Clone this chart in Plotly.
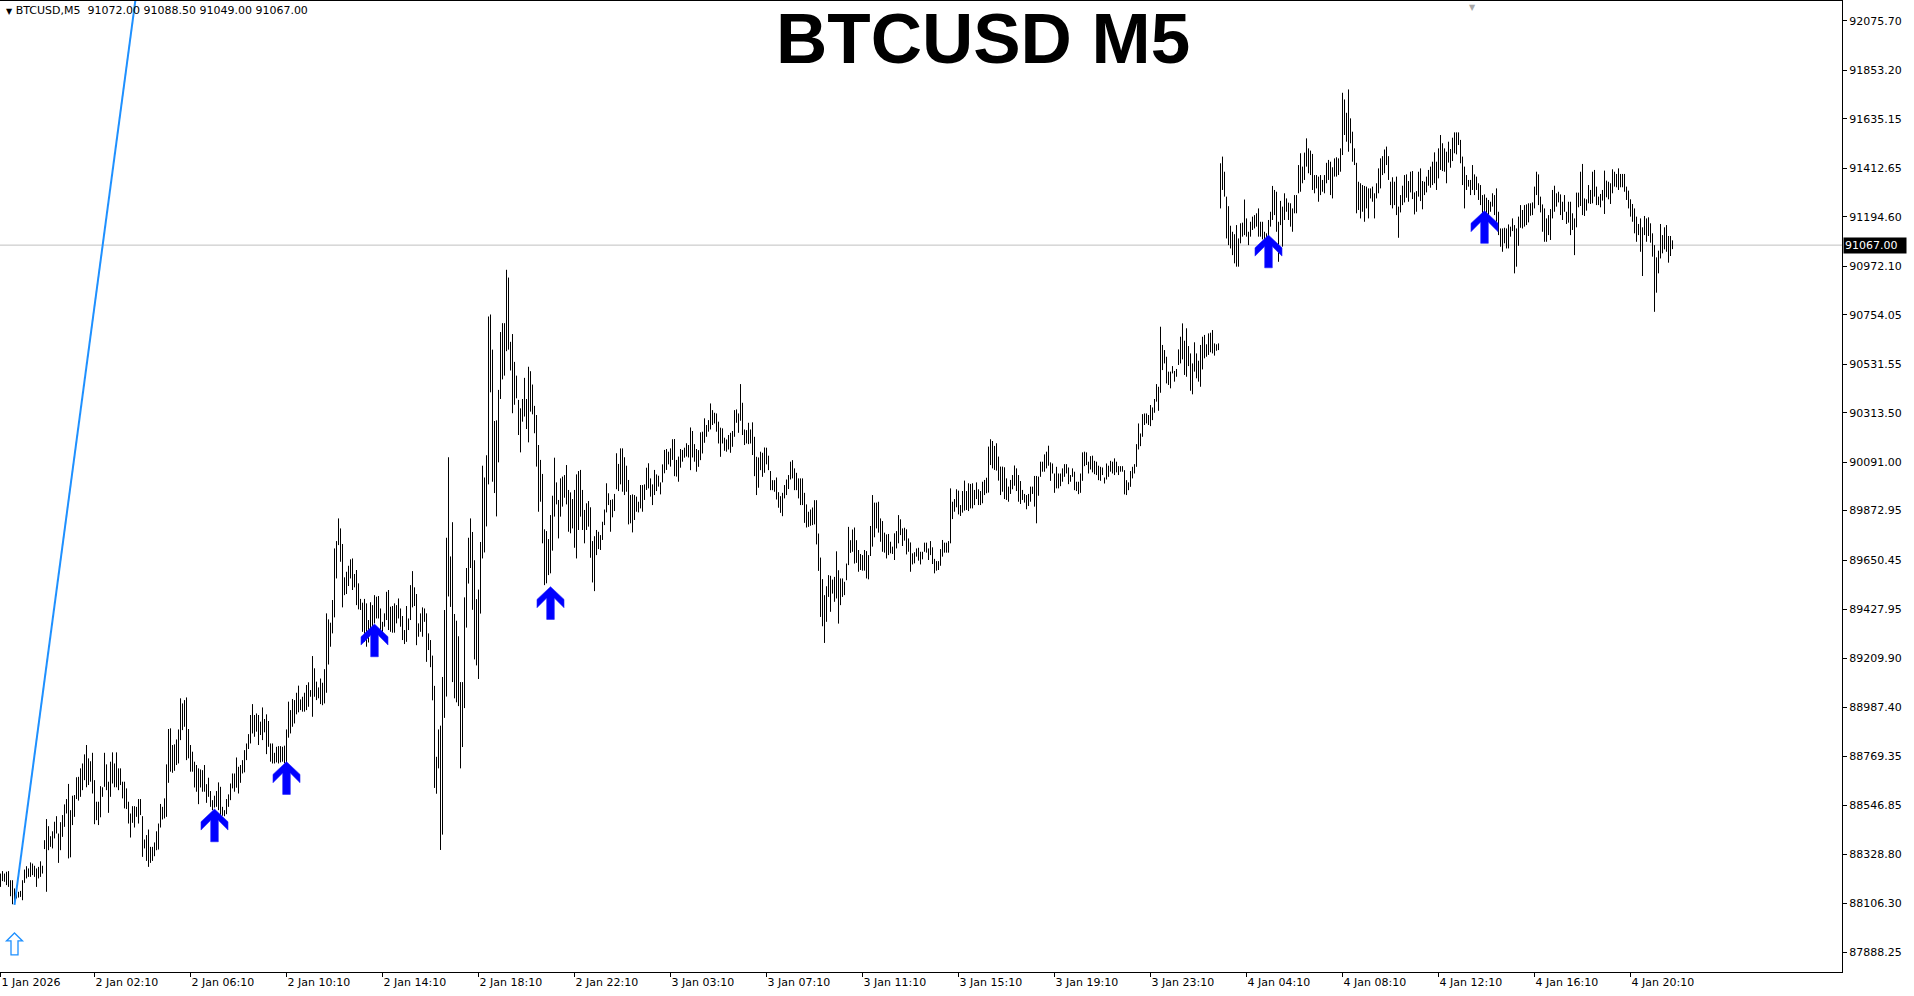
import plotly.graph_objects as go

# ---------------- data ----------------
highs = [
88241,88252,88241,88249,88252,88211,88211,88174,88181,88159,
88163,88211,88259,88274,88264,88291,88286,88276,88264,88271,
88296,88276,88391,88486,88454,88409,88431,88474,88499,88421,
88472,88504,88552,88576,88644,88526,88591,88594,88674,88676,
88714,88736,88777,88819,88759,88746,88784,88661,88564,88564,
88634,88629,88784,88732,88654,88744,88786,88736,88786,88714,
88714,88654,88654,88624,88564,88511,88544,88544,88541,88576,
88576,88499,88394,88414,88439,88361,88361,88381,88431,88466,
88554,
88541,88579,88732,88891,88894,88819,88822,88844,88889,89029,
89006,89021,89033,88891,88819,88789,88744,88729,88714,88709,
88706,88729,88643,88672,88612,88571,88591,88612,88651,88631,
88541,88526,88576,88597,88646,88691,88691,88763,88721,88729,
88751,88796,88826,88868,88954,89003,88954,88961,88954,88924,
88988,88936,88957,88927,88826,88826,88784,88811,88814,88814,
88811,88816,88889,89014,88976,89026,89021,89054,89086,89024,
89036,89054,89089,89101,89066,89219,89164,89104,89078,
89118,89099,89160,89411,89384,89369,89471,89703,89736,89838,
89793,89723,89573,89598,89625,89654,89658,89588,89606,89546,
89476,89459,89476,89456,89381,89461,89448,89493,89486,89489,
89433,89373,89411,89508,89516,89441,89444,89456,89448,89478,
89433,89399,89336,89444,89388,89538,89601,89528,89498,89366,
89411,89438,89433,89411,89321,
89291,89221,89085,88766,88889,88906,89125,89426,89751,90113,
89667,89821,89408,89378,89308,89102,89102,89483,89615,89751,
89838,89777,89650,89475,89518,89732,90075,90022,90122,90746,
90755,90597,90276,90279,90416,90676,90716,90716,90956,90921,
90632,90667,90542,
90480,90371,90333,90375,90470,90375,90520,90500,90440,90344,
90303,90168,90101,90038,89789,89781,89745,89853,89940,90111,
90000,89921,90018,90026,90033,90078,89966,89955,89925,89966,
90036,90051,90056,89966,89876,89906,89916,89888,89736,89758,
89786,89778,89763,89823,89878,89996,89951,89921,89924,89948,
90131,90083,90153,90153,90113,90075,90011,89943,89946,89943,
89936,89913,89988,89988,89991,90066,90086,90018,89991,90056,
90036,90030,90000,90081,90146,90150,90138,90153,90194,90195,
90101,90116,90150,90146,90156,90176,
90168,90247,90231,90172,90150,90145,90225,90228,90288,90258,
90280,90355,90325,90313,90310,90273,90246,90243,90201,90193,
90213,90223,90231,90325,90328,90310,90442,90358,90238,90235,
90268,90238,90270,90205,90115,90112,90138,90133,90157,90156,
90120,90051,90010,90010,90022,89956,89938,89953,89988,90013,
90033,90093,90100,90063,90043,90018,90018,90018,89953,89901,
89868,89878,89887,89920,89920,89770,89662,89565,89493,89533,
89583,89580,89563,89575,89690,89605,89568,89568,89553,89635,
89800,89740,89788,89797,89740,
89696,89678,89673,89696,89691,89673,89804,89943,89909,89909,
89913,89838,89826,89774,89766,89768,89733,89711,89771,89781,
89853,89834,89793,89796,89789,89748,89730,89681,89686,89703,
89706,89688,89688,89729,89729,89703,89736,89708,89656,89646,
89646,89700,89741,89729,89729,89736,89973,89913,89925,89969,
89963,89898,89961,90008,89961,89996,89993,89996,89966,90000,
89969,89961,90003,90011,90021,90161,90194,90186,90164,90176,
90116,90071,90071,90068,90018,89981,90011,90033,90076,90063,
90033,90006,89966,89948,89943,89948,89981,89981,90029,90029,
90026,
90093,90093,90126,90138,90165,90090,90085,90040,90070,90040,
90040,90063,90082,90082,90067,90033,90063,90048,90003,90003,
90040,90135,90138,90135,90093,90118,90120,90097,90093,90075,
90070,90067,90022,90085,90075,90097,90093,90108,90093,90073,
90073,90073,90055,90010,90000,90051,90070,90082,90172,90265,
90220,90307,90310,90310,90303,90348,90337,90375,90442,90430,
90700,90618,90595,90565,90498,90498,90523,90501,90510,90598,
90655,90715,90637,90693,90613,90580,90535,90630,90580,90547,
90618,90655,90663,90621,90670,90673,90685,90625,90621,90625,
91435,91465,91397,91285,91242,91154,91127,91116,91157,91097,
91165,91168,91272,91187,91127,91172,91195,91202,91210,91232,
91172,91172,91127,91120,91180,91217,91333,91315,91307,91172,
91266,91240,91300,91277,91258,91255,91232,91292,91292,91427,
91480,91420,91483,91547,91502,91492,91477,91382,91382,91375,
91382,91360,91382,91437,91450,91442,91417,91457,91462,91457,
91502,91752,91722,91662,91767,91637,91577,91502,91437,91352,
91345,91337,91333,91330,91322,91322,91330,91300,91345,91412,
91457,91467,91497,91510,91467,91352,91372,91352,
91375,91240,91292,91334,91382,91385,91355,91397,91400,91304,
91310,91397,91412,91355,91352,91375,91405,91420,91442,91484,
91442,91502,91562,91525,91502,91487,91532,91499,91550,91574,
91574,91574,91540,91465,91420,91382,91360,91360,91427,91385,
91375,91345,91337,91292,91295,91280,91270,91262,91300,91292,
91322,91217,91142,91142,91145,91142,91160,91150,91187,91157,
91142,91195,91247,91225,91247,91250,91255,91255,91259,91330,
91397,91385,91285,91250,91232,91187,91202,91229,91315,91334,
91300,91307,91295,91262,91292,
91217,91262,91262,91210,91187,91303,91303,91397,91432,91277,
91273,91337,91315,91397,91405,91330,91285,91297,91315,91402,
91357,91352,91345,91408,91397,91387,91412,91387,91387,91387,
91330,91312,91273,91252,91232,91195,91162,91187,91147,91198,
91187,91192,91165,91120,91067,91012,91042,91162,91112,91147,
91157,91108,91108,91088.5,
]

lows = [
88181,88207,88204,88189,88181,88139,88103,88114,88129,88133,
88136,88121,88199,88219,88226,88226,88234,88226,88181,88219,
88226,88241,88351,88159,88346,88361,88354,88399,88421,88289,
88346,88406,88451,88511,88309,88314,88459,88496,88576,88569,
88586,88616,88661,88629,88639,88654,88601,88463,88481,88459,
88494,88586,88631,88616,88514,88586,88646,88629,88629,88616,
88639,88579,88534,88531,88466,88403,88469,88448,88496,88466,
88504,88316,88354,88298,88271,88289,88298,88319,88346,88349,
88448,
88484,88489,88496,88649,88699,88694,88703,88729,88736,88841,
88886,88901,88751,88759,88699,88699,88628,88609,88553,88628,
88609,88609,88559,88586,88541,88526,88538,88541,88526,88504,
88501,88499,88508,88541,88571,88624,88609,88627,88601,88649,
88691,88696,88751,88801,88826,88871,88856,88879,88819,88864,
88841,88876,88778,88811,88744,88736,88736,88741,88736,88741,
88744,88736,88736,88852,88871,88901,88916,88957,88966,88976,
88969,88969,88976,88991,89036,88946,89036,89021,89029,
89003,88998,89006,89054,89181,89261,89321,89393,89568,89718,
89643,89438,89493,89498,89534,89568,89516,89528,89448,89429,
89426,89328,89283,89261,89280,89328,89351,89366,89388,89388,
89336,89321,89351,89381,89336,89328,89324,89324,89366,89388,
89351,89291,89273,89283,89336,89381,89438,89444,89268,89306,
89328,89306,89373,89193,89246,
89169,89020,88626,88600,88714,88347,88416,88941,89037,89487,
89440,89102,89029,89011,88994,88714,88810,88985,89347,89545,
89615,89427,89204,89177,89116,89410,89658,89685,89802,89991,
90405,90003,89952,89847,90090,90375,90463,90480,90590,90597,
90503,90311,90349,
90378,90213,90135,90273,90296,90240,90180,90318,90306,90221,
90071,89868,89913,89726,89538,89546,89583,89591,89693,89846,
89901,89748,89846,89891,89931,89901,89778,89771,89793,89706,
89658,89786,89846,89786,89726,89786,89801,89661,89550,89511,
89673,89700,89696,89741,89808,89865,89898,89778,89843,89871,
89969,89961,89991,89958,89943,89958,89811,89816,89775,89831,
89868,89865,89883,89868,89921,89966,89973,89936,89898,89943,
89961,89981,89946,90000,90041,90056,90081,90071,90101,90028,
90026,90003,90066,90093,90111,90116,
90112,90055,90112,90093,90048,90070,90100,90130,90178,90205,
90228,90238,90258,90265,90228,90175,90115,90175,90142,90138,
90148,90133,90160,90205,90268,90223,90277,90213,90168,90175,
90172,90175,90123,90028,89943,89976,90055,90025,90043,90081,
90055,89965,89965,89958,89923,89886,89863,89848,89928,89943,
89970,90013,90018,89965,89965,89928,89898,89898,89818,89797,
89800,89805,89808,89811,89721,89602,89395,89353,89278,89373,
89485,89418,89500,89463,89478,89365,89448,89485,89493,89560,
89628,89683,89688,89635,89638,
89598,89606,89603,89603,89568,89564,89669,89711,89753,89793,
89774,89733,89688,89684,89658,89673,89681,89678,89651,89703,
89726,89763,89714,89738,89676,89688,89598,89631,89636,89666,
89648,89631,89654,89688,89684,89651,89673,89633,89591,89603,
89606,89625,89666,89684,89684,89684,89726,89835,89868,89888,
89856,89849,89864,89873,89876,89871,89883,89883,89898,89925,
89898,89898,89906,89943,89951,89954,90078,90063,90056,90053,
90008,89943,89958,89925,89921,89913,89948,89969,89985,89961,
89913,89903,89921,89909,89879,89894,89913,89948,89891,89816,
89940,
90025,90048,90048,90063,90075,90007,90040,89953,89973,89973,
89983,90003,90025,90040,89992,90003,90025,89965,89961,89947,
89953,90007,90073,90078,90040,90058,90045,90037,90033,90010,
90007,90033,89995,90013,90025,90048,90040,90033,90045,90033,
90048,90048,89946,89943,89965,89980,90018,90040,90070,90148,
90163,90205,90258,90265,90258,90253,90280,90313,90363,90322,
90403,90505,90535,90445,90438,90423,90490,90453,90475,90528,
90535,90553,90483,90475,90523,90412,90396,90498,90468,90453,
90430,90508,90558,90565,90573,90585,90580,90570,90592,90595,
91232,91315,91285,91097,91067,91052,91022,90985,90970,90970,
91075,91105,91112,91105,91067,91105,91135,91142,91150,91105,
91105,91093,91090,91082,91108,91150,91180,91202,91127,90992,
91157,91060,91180,91217,91180,91150,91127,91210,91210,91300,
91307,91345,91360,91420,91390,91382,91315,91300,91322,91262,
91292,91307,91300,91345,91360,91292,91277,91375,91375,91382,
91397,91472,91562,91532,91487,91525,91442,91427,91210,91225,
91187,91217,91172,91232,91187,91277,91262,91187,91277,91300,
91322,91382,91390,91427,91360,91247,91232,91247,
91202,91100,91214,91247,91259,91280,91262,91304,91274,91205,
91217,91285,91265,91228,91292,91304,91334,91325,91337,91345,
91315,91367,91405,91400,91397,91345,91438,91415,91445,91480,
91475,91517,91435,91337,91232,91315,91330,91292,91315,91292,
91315,91270,91247,91210,91217,91210,91202,91217,91240,91202,
91172,91112,91060,91037,91075,91052,91052,91105,91130,90940,
90970,91064,91145,91142,91150,91157,91169,91199,91202,91232,
91292,91247,91214,91127,91082,91082,91112,91090,91187,91217,
91240,91259,91202,91180,91217,
91162,91168,91112,91135,91022,91147,91237,91243,91202,91198,
91222,91255,91252,91255,91285,91247,91247,91237,91267,91207,
91282,91273,91252,91300,91330,91327,91315,91327,91327,91307,
91270,91232,91195,91172,91120,91082,91112,91037,90928,91112,
91082,91108,91078,91015,90767,90853,90940,91007,91030,91048,
91037,90988,91018,91049,
]

symbol_name = "BTCUSD"
timeframe = "M5"
last_bar = {"open": 91072.00, "high": 91088.50, "low": 91049.00, "close": 91067.00}

price_ticks = [92075.70, 91853.20, 91635.15, 91412.65, 91194.60, 90972.10,
               90754.05, 90531.55, 90313.50, 90091.00, 89872.95, 89650.45,
               89427.95, 89209.90, 88987.40, 88769.35, 88546.85, 88328.80,
               88106.30, 87888.25]

time_tick_bars = [0, 47, 95, 143, 191, 239, 287, 335, 383, 431, 479, 527,
                  575, 623, 671, 719, 767, 815]
time_tick_labels = ["1 Jan 2026", "2 Jan 02:10", "2 Jan 06:10", "2 Jan 10:10",
                    "2 Jan 14:10", "2 Jan 18:10", "2 Jan 22:10", "3 Jan 03:10",
                    "3 Jan 07:10", "3 Jan 11:10", "3 Jan 15:10", "3 Jan 19:10",
                    "3 Jan 23:10", "4 Jan 04:10", "4 Jan 08:10", "4 Jan 12:10",
                    "4 Jan 16:10", "4 Jan 20:10"]

# buy-signal arrows (bar index, price at arrow tip)
signal_bars = [107, 143, 187, 275, 634, 742]
signal_prices = [88531, 88744, 89363, 89531, 91112, 91222]

# hollow arrow object and trend line object
hollow_arrow_bar = 7
hollow_arrow_price = 87974
trend_bars = [7, 80]
trend_prices = [88100, 93013]

if len(highs) != len(lows):
    raise ValueError(f"length mismatch highs={len(highs)} lows={len(lows)}")

# ---------------- figure ----------------
W, H = 1914, 996
FONT = "DejaVu Sans"

fig = go.Figure()

xs, ys = [], []
for i, (h, l) in enumerate(zip(highs, lows)):
    xs += [i, i, None]
    ys += [l, h, None]
fig.add_trace(go.Scatter(x=xs, y=ys, mode="lines",
                         line=dict(color="black", width=1),
                         hoverinfo="skip", showlegend=False))

fig.add_trace(go.Scatter(x=trend_bars, y=trend_prices, mode="lines",
                         line=dict(color="#1E90FF", width=2),
                         hoverinfo="skip", showlegend=False))

# current price line
fig.add_shape(type="line", xref="paper", x0=0, x1=1, yref="y",
              y0=last_bar["close"], y1=last_bar["close"],
              line=dict(color="#C0C0C0", width=1), layer="below")

ARROW = ("M 0 0 L 13.5 -12.7 L 13.5 -21 L 3.8 -11.3 L 3.8 -32.7 "
         "L -3.8 -32.7 L -3.8 -11.3 L -13.5 -21 L -13.5 -12.7 Z")
for b, p in zip(signal_bars, signal_prices):
    fig.add_shape(type="path", xref="x", yref="y",
                  xsizemode="pixel", ysizemode="pixel",
                  xanchor=b, yanchor=p, path=ARROW,
                  fillcolor="#0000FF", line=dict(color="#2020FF", width=0.6))

HOLLOW = ("M 0 0 L 8 -8 L 3.5 -8 L 3.5 -22 L -3.5 -22 L -3.5 -8 L -8 -8 Z")
fig.add_shape(type="path", xref="x", yref="y",
              xsizemode="pixel", ysizemode="pixel",
              xanchor=hollow_arrow_bar, yanchor=hollow_arrow_price, path=HOLLOW,
              fillcolor="white", line=dict(color="#1E90FF", width=1.3))

# title
fig.add_annotation(xref="paper", yref="paper", x=983 / 1842, y=(972 - 39) / 971,
                   xanchor="center", yanchor="middle", showarrow=False,
                   text=f"<b>{symbol_name} {timeframe}</b>",
                   font=dict(family="Liberation Sans", size=71, color="black"))

# header
nb = "\u00a0"
header = (f"<span style='font-size:8px'>▼</span>{nb}{symbol_name},{timeframe}{nb}{nb}"
          f"{last_bar['open']:.2f}{nb}{last_bar['high']:.2f}{nb}"
          f"{last_bar['low']:.2f}{nb}{last_bar['close']:.2f}")
fig.add_annotation(xref="paper", yref="paper", x=0, y=1, xanchor="left", yanchor="top",
                   xshift=4, yshift=-1, showarrow=False, text=header,
                   font=dict(family=FONT, size=11, color="black"))

# current price label
fig.add_annotation(xref="paper", yref="y", x=1, y=last_bar["close"],
                   xanchor="left", yanchor="middle", xshift=1, showarrow=False,
                   text=f"{last_bar['close']:.2f}", bgcolor="black",
                   font=dict(family=FONT, size=11, color="white"),
                   width=60, height=13, align="left", borderpad=1)

# chart shift marker
fig.add_annotation(xref="x", yref="paper", x=736, y=1, xanchor="center",
                   yanchor="top", showarrow=False, text="▼",
                   font=dict(family=FONT, size=8, color="#A8A8A8"))

fig.update_layout(
    width=W, height=H,
    margin=dict(l=0, r=72, t=1, b=24, pad=0),
    paper_bgcolor="white", plot_bgcolor="white",
    showlegend=False,
    xaxis=dict(range=[-0.25, 920.75], tickmode="array",
               tickvals=time_tick_bars, ticktext=time_tick_labels,
               ticks="outside", ticklen=4, tickcolor="black", tickwidth=1,
               ticklabelposition="outside right",
               showline=True, linecolor="black", linewidth=1, mirror=True,
               showgrid=False, zeroline=False, automargin=False,
               tickfont=dict(family=FONT, size=11, color="black")),
    yaxis=dict(range=[87798.3, 92164.7], side="right", tickmode="array",
               tickvals=price_ticks, ticktext=[f"{v:.2f}" for v in price_ticks],
               ticks="outside", ticklen=4, tickcolor="black", tickwidth=1,
               showline=True, linecolor="black", linewidth=1,
               showgrid=False, zeroline=False, automargin=False,
               tickfont=dict(family=FONT, size=11, color="black")),
)

fig.write_html("out.html", config={"displayModeBar": False},
               post_script="document.body.style.margin='0';")
